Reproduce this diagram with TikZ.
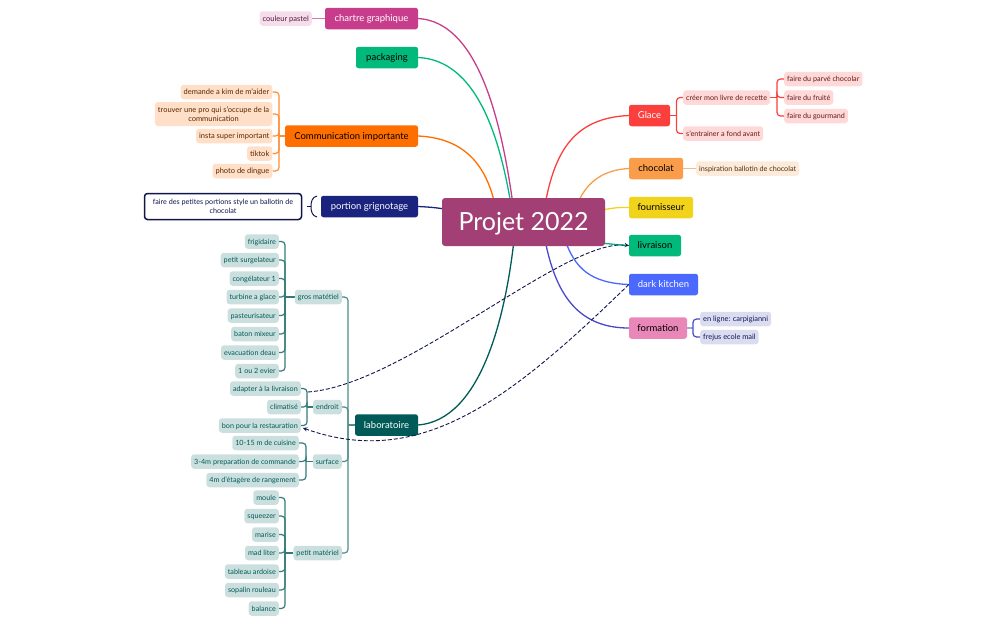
\documentclass[tikz,border=0pt]{standalone}
\usepackage{fontspec}
\setmainfont{Lato}
\pgfdeclarelayer{edgelayer}
\pgfdeclarelayer{nodelayer}
\pgfsetlayers{edgelayer,nodelayer,main}
\definecolor{rootcol}{HTML}{A23F74}
\definecolor{pinkcol}{HTML}{C83C8C}
\definecolor{pinkpale}{HTML}{F6DDEB}
\definecolor{greencol}{HTML}{00B97A}
\definecolor{orangecol}{HTML}{FF6F00}
\definecolor{orangepale}{HTML}{FFDFC7}
\definecolor{navycol}{HTML}{1A237E}
\definecolor{redcol}{HTML}{FB3F3D}
\definecolor{redpale}{HTML}{FFD8D8}
\definecolor{sandcol}{HTML}{FA9D4A}
\definecolor{sandpale}{HTML}{FDEBD9}
\definecolor{yellowcol}{HTML}{F2D31B}
\definecolor{bluecol}{HTML}{4B68FF}
\definecolor{rosecol}{HTML}{E987B8}
\definecolor{indigocol}{HTML}{4A4AC8}
\definecolor{indigopale}{HTML}{DCDCF0}
\definecolor{tealcol}{HTML}{005A58}
\definecolor{tealpale}{HTML}{CBE0DE}
\definecolor{tealmid}{HTML}{4B8E8A}
\tikzstyle{branch}=[rounded corners=2.5pt, inner sep=0pt, minimum height=21.5pt, text height=8pt, text depth=1.5pt, font=\fontsize{9.5}{11}\selectfont]
\tikzstyle{leaf}=[rounded corners=3pt, inner xsep=3pt, inner ysep=0pt, minimum height=14.5pt, text height=6pt, text depth=1pt, font=\fontsize{7.2}{9}\selectfont]
\tikzstyle{orleaf}=[style=leaf, anchor=east, fill=orangepale, text=orangecol!35!black, font=\fontsize{7.5}{9}\selectfont]
\tikzstyle{tealleaf}=[style=leaf, anchor=east, fill=tealpale, text=tealcol]
\tikzstyle{redleaf}=[style=leaf, anchor=west, fill=redpale, text=redcol!40!black]
\tikzstyle{link}=[line width=1.2pt, rounded corners=3.5pt]
\tikzstyle{rope}=[line width=1.3pt]
\tikzstyle{crossref}=[dash pattern=on 4pt off 2pt, line width=0.9pt, color=navycol!60!black, ->, >=stealth]

\begin{document}
\begin{tikzpicture}[x=1pt, y=-1pt]
	\useasboundingbox (0, 0) rectangle (1008, 624);
	\begin{pgfonlayer}{nodelayer}
		% centre and main branches
		\node [rounded corners=3pt, fill=rootcol, text=white, minimum width=163pt, minimum height=48pt, inner sep=0pt, text height=18pt, text depth=2pt, font=\fontsize{25}{28}\selectfont] (root) at (523.5, 222) {Projet 2022};
		\node [style=branch, fill=pinkcol, text=white, minimum width=93pt] (chartre) at (371.5, 18.5) {chartre graphique};
		\node [style=branch, fill=greencol, minimum width=62pt] (packaging) at (387, 57.5) {packaging};
		\node [style=branch, fill=orangecol, minimum width=133pt] (comm) at (351.5, 136) {Communication importante};
		\node [style=branch, fill=navycol, text=white, minimum width=97pt] (portion) at (369.5, 206.5) {portion grignotage};
		\node [style=branch, fill=tealcol, text=white, minimum width=63pt] (labo) at (386.5, 425) {laboratoire};
		\node [style=branch, fill=redcol, text=white, minimum width=41pt] (glace) at (649.5, 115.5) {Glace};
		\node [style=branch, fill=sandcol, minimum width=54pt] (chocolat) at (656, 168.5) {chocolat};
		\node [style=branch, fill=yellowcol, minimum width=64pt] (fourn) at (661, 207.5) {fournisseur};
		\node [style=branch, fill=greencol, minimum width=52pt] (livraison) at (655, 245.5) {livraison};
		\node [style=branch, fill=bluecol, text=white, minimum width=69pt] (kitchen) at (663.5, 284.5) {dark kitchen};
		\node [style=branch, fill=rosecol, minimum width=58pt] (formation) at (658, 328) {formation};
		% pink, orange and navy leaves
		\node [style=leaf, anchor=east, fill=pinkpale, text=pinkcol!40!black, font=\fontsize{7.5}{9}\selectfont] (pastel) at (312, 18.5) {couleur pastel};
		\node [style=orleaf] (kim) at (272.5, 92) {demande a kim de m'aider};
		\node [style=orleaf, align=center, text height=, text depth=, minimum height=24pt, minimum width=117.5pt] (pro) at (272.5, 114) {trouver une pro qui s'occupe de la\\communication};
		\node [style=orleaf] (insta) at (272.5, 136) {insta super important};
		\node [style=orleaf] (tiktok) at (272.5, 153.5) {tiktok};
		\node [style=orleaf] (photo) at (272.5, 171) {photo de dingue};
		\node [style=leaf, fill=white, draw=navycol!60!black, line width=1.5pt, text=navycol!60!black, align=center, text height=, text depth=, minimum width=157pt, minimum height=26pt] (portions) at (223, 206.5) {faire des petites portions style un ballotin de\\chocolat};
		% right leaves
		\node [style=redleaf] (livre) at (683, 97.5) {créer mon livre de recette};
		\node [style=redleaf] (entrainer) at (683, 133.5) {s'entrainer a fond avant};
		\node [style=redleaf] (parve) at (784, 79) {faire du parvé chocolar};
		\node [style=redleaf] (fruite) at (784, 97.5) {faire du fruité};
		\node [style=redleaf] (gourmand) at (784, 116) {faire du gourmand};
		\node [style=leaf, anchor=west, fill=sandpale, text=sandcol!30!black] (inspi) at (696, 168.5) {inspiration ballotin de chocolat};
		\node [style=leaf, anchor=west, fill=indigopale, text=navycol!70!black, font=\fontsize{7.4}{9}\selectfont] (ligne) at (700, 319) {en ligne: carpigianni};
		\node [style=leaf, anchor=west, fill=indigopale, text=navycol!70!black, font=\fontsize{7.4}{9}\selectfont] (frejus) at (700, 337) {frejus ecole mail};
		% laboratoire, second level
		\node [style=tealleaf] (gros) at (342, 297) {gros matétiel};
		\node [style=tealleaf] (endroit) at (342, 407) {endroit};
		\node [style=tealleaf] (surface) at (342, 461.5) {surface};
		\node [style=tealleaf] (petit) at (342, 553) {petit matériel};
		% gros materiel
		\node [style=tealleaf] (frigo) at (279, 241.5) {frigidaire};
		\node [style=tealleaf] (surgel) at (279, 260) {petit surgelateur};
		\node [style=tealleaf] (congel) at (279, 278.5) {congélateur 1};
		\node [style=tealleaf] (turbine) at (279, 297) {turbine a glace};
		\node [style=tealleaf] (pasteur) at (279, 315.5) {pasteurisateur};
		\node [style=tealleaf] (baton) at (279, 334) {baton mixeur};
		\node [style=tealleaf] (evac) at (279, 352.5) {evacuation deau};
		\node [style=tealleaf] (evier) at (279, 371) {1 ou 2 evier};
		% endroit
		\node [style=tealleaf] (adapter) at (301, 388.5) {adapter à la livraison};
		\node [style=tealleaf] (clim) at (301, 407) {climatisé};
		\node [style=tealleaf] (resto) at (301, 425.5) {bon pour la restauration};
		% surface
		\node [style=tealleaf] (cuisine) at (299, 443) {10-15 m de cuisine};
		\node [style=tealleaf] (prepa) at (299, 461.5) {3-4m preparation de commande};
		\node [style=tealleaf] (etagere) at (299, 480) {4m d'étagère de rangement};
		% petit materiel
		\node [style=tealleaf] (moule) at (279, 497.5) {moule};
		\node [style=tealleaf] (squeezer) at (279, 516) {squeezer};
		\node [style=tealleaf] (marise) at (279, 534.5) {marise};
		\node [style=tealleaf] (madliter) at (279, 553) {mad liter};
		\node [style=tealleaf] (ardoise) at (279, 571.5) {tableau ardoise};
		\node [style=tealleaf] (sopalin) at (279, 590) {sopalin rouleau};
		\node [style=tealleaf] (balance) at (279, 608.5) {balance};
		% free ends
		\coordinate (labtrunk) at (348, 425);
		\coordinate (grostrunk) at (285, 297);
		\coordinate (endtrunk) at (307, 407);
		\coordinate (surftrunk) at (306, 461.5);
		\coordinate (petittrunk) at (285, 553);
		\coordinate (commtrunk) at (279, 136);
		\coordinate (glacetrunk) at (676.5, 115.5);
		\coordinate (livretrunk) at (777, 97.5);
		\coordinate (formtrunk) at (693, 328);
		\coordinate (adapterout) at (308, 392);
		\coordinate (restoin) at (303, 428);
		\coordinate (brace) at (311, 206.5);
		\coordinate (bracetop) at (317, 196);
		\coordinate (bracebot) at (317, 217);
		\coordinate (bracetip) at (306.5, 206.5);
	\end{pgfonlayer}
	\begin{pgfonlayer}{edgelayer}
		% main branches
		\draw [style=rope, color=pinkcol] (chartre.east) .. controls (475, 22) and (500, 110) .. (513, 205);
		\draw [style=rope, color=greencol] (packaging.east) .. controls (470, 60) and (497, 120) .. (511, 205);
		\draw [style=rope, color=orangecol] (comm.east) .. controls (460, 138) and (485, 160) .. (495, 205);
		\draw [style=rope, color=navycol] (portion.east) .. controls (430, 207) and (440, 208) .. (450, 210);
		\draw [style=rope, color=tealcol] (labo.east) .. controls (480, 420) and (505, 320) .. (514, 240);
		\draw [style=rope, color=redcol] (glace.west) .. controls (575, 118) and (555, 150) .. (545, 205);
		\draw [style=rope, color=sandcol] (chocolat.west) .. controls (600, 170) and (585, 185) .. (577, 205);
		\draw [style=rope, color=yellowcol] (fourn.west) .. controls (615, 207) and (610, 209) .. (600, 210);
		\draw [style=rope, color=greencol] (livraison.west) .. controls (618, 245) and (612, 244) .. (600, 243);
		\draw [style=rope, color=bluecol] (kitchen.west) .. controls (590, 283) and (575, 268) .. (565, 240);
		\draw [style=rope, color=indigocol] (formation.west) .. controls (575, 328) and (555, 290) .. (545, 240);
		% small links
		\draw [style=link, color=pinkcol!70] (chartre.west) to (pastel.east);
		\draw [style=link, color=sandcol!70] (chocolat.east) to (inspi.west);
		\draw [style=link, color=orangecol!80] (comm.west) to (commtrunk);
		\foreach \leafname in {kim, pro, insta, tiktok, photo}
			\draw [style=link, color=orangecol!80] (commtrunk) |- (\leafname.east);
		\draw [style=link, color=redcol] (glace.east) to (glacetrunk);
		\foreach \leafname in {livre, entrainer}
			\draw [style=link, color=redcol] (glacetrunk) |- (\leafname.west);
		\draw [style=link, color=redcol] (livre.east) to (livretrunk);
		\foreach \leafname in {parve, fruite, gourmand}
			\draw [style=link, color=redcol] (livretrunk) |- (\leafname.west);
		\draw [style=link, color=indigocol!50] (formation.east) to (formtrunk);
		\foreach \leafname in {ligne, frejus}
			\draw [style=link, color=indigocol] (formtrunk) |- (\leafname.west);
		% laboratoire
		\draw [style=link, color=tealmid] (labo.west) to (labtrunk);
		\foreach \leafname in {gros, endroit, surface, petit}
			\draw [style=link, color=tealmid] (labtrunk) |- (\leafname.east);
		\draw [style=link, color=tealcol!80] (gros.west) to (grostrunk);
		\foreach \leafname in {frigo, surgel, congel, turbine, pasteur, baton, evac, evier}
			\draw [style=link, color=tealcol!80] (grostrunk) |- (\leafname.east);
		\draw [style=link, color=tealcol!80] (endroit.west) to (endtrunk);
		\foreach \leafname in {adapter, clim, resto}
			\draw [style=link, color=tealcol!80] (endtrunk) |- (\leafname.east);
		\draw [style=link, color=tealcol!80] (surface.west) to (surftrunk);
		\foreach \leafname in {cuisine, prepa, etagere}
			\draw [style=link, color=tealcol!80] (surftrunk) |- (\leafname.east);
		\draw [style=link, color=tealcol!80] (petit.west) to (petittrunk);
		\foreach \leafname in {moule, squeezer, marise, madliter, ardoise, sopalin, balance}
			\draw [style=link, color=tealcol!80] (petittrunk) |- (\leafname.east);
		% summary bracket
		\draw [line width=1pt, color=navycol!60!black] (bracetop) .. controls (312, 197) and (311, 202) .. (brace) .. controls (311, 211) and (312, 216) .. (bracebot);
		\draw [line width=1pt, color=navycol!60!black] (bracetip) to (brace);
	\end{pgfonlayer}
	% dashed relations on top
	\draw [style=crossref] (adapterout) .. controls (405, 385) and (565, 238) .. (livraison.west);
	\draw [style=crossref] (kitchen.west) .. controls (510, 400) and (420, 470) .. (restoin);
\end{tikzpicture}
\end{document}
